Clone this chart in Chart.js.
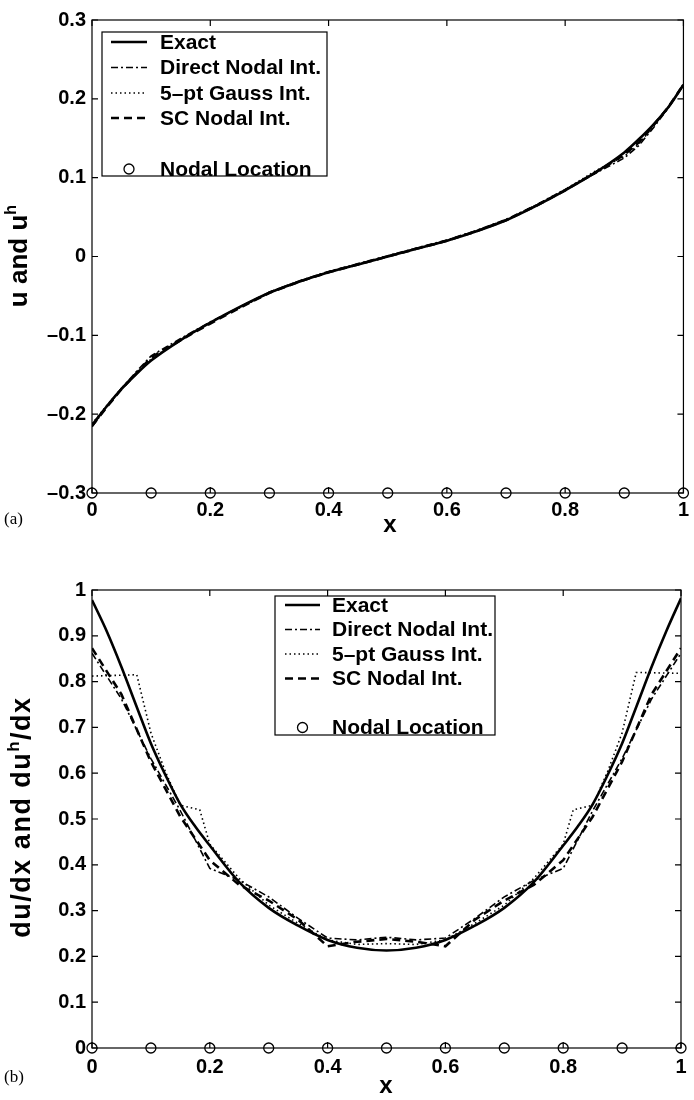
<!DOCTYPE html>
<html>
<head>
<meta charset="utf-8">
<script src="https://cdn.jsdelivr.net/npm/chart.js@4.4.1/dist/chart.umd.min.js"></script>
<style>
  html, body { margin: 0; padding: 0; background: #fff; }
  #page { position: relative; width: 694px; height: 1100px; overflow: hidden; }
  canvas { position: absolute; left: 0; }
  .ytitle { position: absolute; font: bold 26px "Liberation Sans", Arial, sans-serif; white-space: nowrap;
            transform: translate(-50%, -50%) rotate(-90deg); }
  .xtitle { position: absolute; font: bold 24px "Liberation Sans", Arial, sans-serif; transform: translate(-50%, -50%); }
  .panel { position: absolute; font: 17px "Liberation Serif", "Times New Roman", serif; transform: translateY(-50%); }
  sup { font-size: 0.62em; vertical-align: 0.65em; line-height: 0; }
</style>
</head>
<body>
<div id="page">
  <canvas id="chartA" width="694" height="540" style="top:0"></canvas>
  <canvas id="chartB" width="694" height="560" style="top:540px"></canvas>
  <div class="ytitle" style="left:18px; top:256px">u and u<sup>h</sup></div>
  <div class="xtitle" style="left:390px; top:524px">x</div>
  <div class="panel" style="left:4px; top:519px">(a)</div>
  <div class="ytitle" style="left:21px; top:817px; font-size:27px; letter-spacing:1.5px">du/dx and du<sup>h</sup>/dx</div>
  <div class="xtitle" style="left:386px; top:1085px">x</div>
  <div class="panel" style="left:4px; top:1077px">(b)</div>
</div>
<script>
// (a) u and u^h
const xU = [0, 0.025, 0.05, 0.075, 0.1, 0.15, 0.2, 0.25, 0.3, 0.35, 0.4, 0.45, 0.5,
            0.55, 0.6, 0.65, 0.7, 0.75, 0.8, 0.85, 0.9, 0.925, 0.95, 0.975, 1];
const exactU  = [-0.214, -0.190, -0.168, -0.149, -0.132, -0.106, -0.084, -0.064, -0.046, -0.032, -0.020, -0.010, 0,
                 0.010, 0.020, 0.032, 0.046, 0.064, 0.084, 0.106, 0.132, 0.149, 0.168, 0.190, 0.218];
const directU = [-0.216, -0.191, -0.167, -0.146, -0.126, -0.104, -0.083, -0.064, -0.045, -0.031, -0.019, -0.009, 0.001,
                 0.011, 0.021, 0.033, 0.047, 0.065, 0.085, 0.105, 0.125, 0.141, 0.164, 0.189, 0.219];
const gaussU  = [-0.212, -0.189, -0.167, -0.148, -0.130, -0.105, -0.084, -0.065, -0.046, -0.032, -0.020, -0.010, 0,
                 0.010, 0.020, 0.032, 0.046, 0.065, 0.085, 0.108, 0.127, 0.143, 0.166, 0.190, 0.217];
const scU     = [-0.215, -0.191, -0.168, -0.148, -0.128, -0.106, -0.085, -0.065, -0.046, -0.032, -0.020, -0.010, 0,
                 0.010, 0.020, 0.032, 0.046, 0.064, 0.084, 0.106, 0.129, 0.145, 0.167, 0.190, 0.218];

// nodes
const xNodes = [0, 0.1, 0.2, 0.3, 0.4, 0.5, 0.6, 0.7, 0.8, 0.9, 1];
const nodeU  = [-0.3, -0.3, -0.3, -0.3, -0.3, -0.3, -0.3, -0.3, -0.3, -0.3, -0.3];
const nodeDu = [0, 0, 0, 0, 0, 0, 0, 0, 0, 0, 0];

// (b) du/dx and du^h/dx
const xDu = [0, 0.025, 0.05, 0.075, 0.1, 0.125, 0.15, 0.175, 0.2, 0.25, 0.3, 0.35, 0.4, 0.45, 0.5,
             0.55, 0.6, 0.65, 0.7, 0.75, 0.8, 0.825, 0.85, 0.875, 0.9, 0.925, 0.95, 0.975, 1];
const exactDu = [0.978, 0.910, 0.832, 0.748, 0.665, 0.595, 0.532, 0.484, 0.442, 0.362, 0.306, 0.267, 0.236, 0.219, 0.213,
                 0.219, 0.236, 0.267, 0.306, 0.362, 0.442, 0.484, 0.532, 0.595, 0.665, 0.748, 0.832, 0.910, 0.982];
const xApprox = [0, 0.05, 0.1, 0.15, 0.2, 0.25, 0.3, 0.35, 0.4, 0.45, 0.5,
                 0.55, 0.6, 0.65, 0.7, 0.75, 0.8, 0.85, 0.9, 0.95, 1];
const directDu = [0.862, 0.762, 0.632, 0.518, 0.392, 0.366, 0.330, 0.283, 0.240, 0.236, 0.242,
                  0.236, 0.240, 0.283, 0.330, 0.366, 0.392, 0.518, 0.632, 0.762, 0.862];
const scDu     = [0.873, 0.772, 0.625, 0.505, 0.410, 0.356, 0.322, 0.280, 0.222, 0.232, 0.238,
                  0.232, 0.222, 0.280, 0.322, 0.356, 0.410, 0.505, 0.625, 0.772, 0.873];
const xGauss = [0, 0.076, 0.1, 0.125, 0.15, 0.183, 0.2, 0.25, 0.3, 0.35, 0.4, 0.45, 0.5,
                0.55, 0.6, 0.65, 0.7, 0.75, 0.8, 0.817, 0.85, 0.875, 0.9, 0.924, 1];
const gaussDu = [0.812, 0.815, 0.688, 0.602, 0.530, 0.520, 0.445, 0.370, 0.312, 0.272, 0.236, 0.226, 0.228,
                 0.226, 0.236, 0.272, 0.312, 0.370, 0.445, 0.520, 0.530, 0.602, 0.688, 0.820, 0.818];

const seriesNames = ["Exact", "Direct Nodal Int.", "5\u2013pt Gauss Int.", "SC Nodal Int.", "Nodal Location"];

const FONT = '"Liberation Sans", Arial, Helvetica, sans-serif';
Chart.defaults.font.family = FONT;
Chart.defaults.color = "#000";

const pts = (xs, ys) => xs.map((x, i) => ({ x: x, y: ys[i] }));
const fmt = v => {
  const r = Math.round(v * 10) / 10;
  return (r === 0 ? "0" : String(r)).replace("-", "\u2013");
};

// box around the plot with matlab style inward ticks
const framePlugin = {
  id: "frame",
  afterDraw(chart) {
    const { ctx, chartArea: a } = chart;
    const xs = chart.scales.x, ys = chart.scales.y;
    const len = 6;
    ctx.save();
    ctx.strokeStyle = "#000";
    ctx.lineWidth = 1.2;
    ctx.strokeRect(a.left, a.top, a.right - a.left, a.bottom - a.top);
    ctx.beginPath();
    xs.ticks.forEach(t => {
      const p = xs.getPixelForValue(t.value);
      ctx.moveTo(p, a.bottom); ctx.lineTo(p, a.bottom - len);
      ctx.moveTo(p, a.top); ctx.lineTo(p, a.top + len);
    });
    ys.ticks.forEach(t => {
      const p = ys.getPixelForValue(t.value);
      ctx.moveTo(a.left, p); ctx.lineTo(a.left + len, p);
      ctx.moveTo(a.right, p); ctx.lineTo(a.right - len, p);
    });
    ctx.stroke();
    ctx.restore();
  }
};

// legend box drawn inside the plot area, using each dataset's own style
const boxLegendPlugin = {
  id: "boxLegend",
  afterDraw(chart, args, opts) {
    const { ctx } = chart;
    const [l, t, r, b] = opts.box;
    ctx.save();
    ctx.fillStyle = "#fff";
    ctx.fillRect(l, t, r - l, b - t);
    ctx.strokeStyle = "#000";
    ctx.lineWidth = 1.2;
    ctx.strokeRect(l, t, r - l, b - t);
    chart.data.datasets.forEach((ds, i) => {
      const y = opts.rows[i];
      ctx.strokeStyle = "#000";
      if (ds.showLine === false) {
        ctx.lineWidth = ds.pointBorderWidth;
        ctx.setLineDash([]);
        ctx.beginPath();
        ctx.arc((opts.sx0 + opts.sx1) / 2, y, ds.pointRadius, 0, Math.PI * 2);
        ctx.stroke();
      } else {
        ctx.lineWidth = ds.borderWidth;
        ctx.setLineDash(ds.borderDash || []);
        ctx.beginPath();
        ctx.moveTo(opts.sx0, y);
        ctx.lineTo(opts.sx1, y);
        ctx.stroke();
      }
      ctx.setLineDash([]);
      ctx.fillStyle = "#000";
      ctx.font = "bold 21px " + FONT;
      ctx.textBaseline = "middle";
      ctx.textAlign = "left";
      ctx.fillText(ds.label, opts.tx, y + 1);
    });
    ctx.restore();
  }
};

function makeDatasets(xExact, yExact, xDirect, yDirect, xG, yG, xSc, ySc, yNodes) {
  return [
    { label: seriesNames[0], data: pts(xExact, yExact), showLine: true, borderColor: "#000",
      borderWidth: 2.6, pointRadius: 0, cubicInterpolationMode: "monotone" },
    { label: seriesNames[1], data: pts(xDirect, yDirect), showLine: true, borderColor: "#000",
      borderWidth: 1.6, borderDash: [7, 3, 2, 3], pointRadius: 0 },
    { label: seriesNames[2], data: pts(xG, yG), showLine: true, borderColor: "#000",
      borderWidth: 1.6, borderDash: [1.5, 3], pointRadius: 0 },
    { label: seriesNames[3], data: pts(xSc, ySc), showLine: true, borderColor: "#000",
      borderWidth: 2.6, borderDash: [8, 5], pointRadius: 0 },
    { label: seriesNames[4], data: pts(xNodes, yNodes), showLine: false, pointStyle: "circle",
      pointRadius: 5, pointBorderWidth: 1.3, pointBorderColor: "#000",
      pointBackgroundColor: "rgba(0,0,0,0)", clip: false }
  ];
}

function makeChart(id, datasets, cfg) {
  return new Chart(document.getElementById(id), {
    type: "scatter",
    data: { datasets: datasets },
    options: {
      responsive: false,
      animation: false,
      events: [],
      layout: { padding: cfg.padding },
      plugins: {
        legend: { display: false },
        tooltip: { enabled: false },
        boxLegend: cfg.legend
      },
      scales: {
        x: {
          type: "linear", min: 0, max: 1,
          grid: { display: false, drawTicks: false },
          border: { display: false },
          ticks: { stepSize: 0.2, padding: cfg.xPad, font: { size: 20, weight: "bold" }, callback: fmt, maxRotation: 0 },
          afterFit: s => { s.height = cfg.xHeight; }
        },
        y: {
          type: "linear", min: cfg.yMin, max: cfg.yMax,
          grid: { display: false, drawTicks: false },
          border: { display: false },
          ticks: { stepSize: 0.1, padding: 6, font: { size: 20, weight: "bold" }, callback: fmt },
          afterFit: s => { s.width = cfg.yWidth; }
        }
      }
    },
    plugins: [framePlugin, boxLegendPlugin]
  });
}

makeChart("chartA",
  makeDatasets(xU, exactU, xU, directU, xU, gaussU, xU, scU, nodeU),
  {
    padding: { left: 0, right: 5, top: 20, bottom: 0 },
    xHeight: 47, yWidth: 92, xPad: 5, yMin: -0.3, yMax: 0.3,
    legend: { box: [102, 32, 327, 176], rows: [42, 67.5, 93, 118, 169], sx0: 111, sx1: 147, tx: 160 }
  });

makeChart("chartB",
  makeDatasets(xDu, exactDu, xApprox, directDu, xGauss, gaussDu, xApprox, scDu, nodeDu),
  {
    padding: { left: 0, right: 13, top: 50, bottom: 0 },
    xHeight: 52, yWidth: 92, xPad: 7, yMin: 0, yMax: 1,
    legend: { box: [275, 56, 495, 195], rows: [65, 89.5, 114, 138.5, 187.5], sx0: 285, sx1: 320, tx: 332 }
  });
</script>
</body>
</html>
